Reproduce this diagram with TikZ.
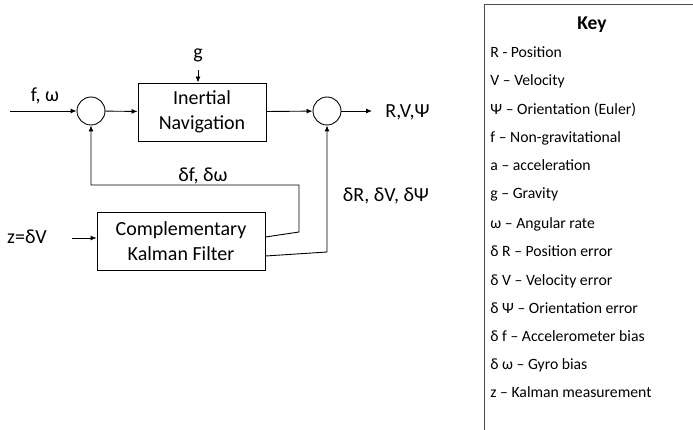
\documentclass[tikz,border=0pt]{standalone}
\usepackage{fontspec}
\setmainfont{Carlito}
\usetikzlibrary{arrows.meta}
\begin{document}
\begin{tikzpicture}[x=1pt,y=-1pt, line width=0.9pt,
 sumnode/.style={circle,draw,minimum size=28pt,inner sep=0pt},
 blockbox/.style={draw,minimum width=128pt,minimum height=58pt,align=center,font=\fontsize{20}{25}\selectfont},
 lbl/.style={font=\fontsize{20}{24}\selectfont,inner sep=0pt,anchor=base},
 keyitem/.style={anchor=base west,font=\fontsize{15.7}{18}\selectfont,inner sep=0pt},
 arr/.style={-{Latex[length=6pt,width=5pt]}}]
\useasboundingbox (0,0) rectangle (693,430);
% main loop
\node[sumnode] (s1) at (91,111) {};
\node[sumnode] (s2) at (327,111) {};
\node[blockbox] (ins) at (202,112) {Inertial\\Navigation};
\node[blockbox, minimum width=168pt] (kf) at (181,241) {Complementary\\Kalman Filter};
\coordinate (in) at (10,111);
\draw[arr] (in) -- (s1);
\node[lbl] (fw) at (45,102) {f, ω};
\draw[arr] (s1) -- (ins);
\node[lbl] (g) at (198,59) {g};
\coordinate (gtop) at (198,70);
\draw[arr] (gtop) -- (gtop |- ins.north);
\draw[arr] (ins) -- (s2);
\coordinate (out) at (372,111);
\draw[arr] (s2) -- (out);
\node[lbl,anchor=base west] (rvp) at (385,118) {R,V,Ψ};
% feedback
\coordinate (c1) at (299,232);
\coordinate (c2) at (327,252);
\draw[arr] ([yshift=4pt]kf.east) -- (c1) -- (c1 |- 0,185) -| (s1.south);
\draw[arr] ([yshift=-15pt]kf.east) -- (c2) -- (s2.south);
\node[lbl] (dfw) at (203,182) {δf, δω};
\node[lbl] (drvp) at (386,202) {δR, δV, δΨ};
\node[lbl] (z) at (27,244) {z=δV};
\coordinate (zin) at (72,238);
\draw[arr] (zin) -- (kf.west |- zin);
% key
\draw[gray!60!black] (693,4) -- (484,4) -- (484,430);
\node[font=\bfseries\fontsize{19.5}{22}\selectfont, inner sep=0pt, anchor=base] (keyt) at (592,30) {Key};
\node[keyitem] (k1) at (490,58) {R - Position};
\node[keyitem] (k2) at (490,86) {V – Velocity};
\node[keyitem] (k3) at (490,115) {Ψ – Orientation (Euler)};
\node[keyitem] (k4) at (490,143) {f – Non-gravitational};
\node[keyitem] (k5) at (490,171) {a – acceleration};
\node[keyitem] (k6) at (490,199) {g – Gravity};
\node[keyitem] (k7) at (490,229) {ω – Angular rate};
\node[keyitem] (k8) at (490,257) {δ R – Position error};
\node[keyitem] (k9) at (490,285) {δ V – Velocity error};
\node[keyitem] (k10) at (490,313) {δ Ψ – Orientation error};
\node[keyitem] (k11) at (490,341) {δ f – Accelerometer bias};
\node[keyitem] (k12) at (490,369) {δ ω – Gyro bias};
\node[keyitem] (k13) at (490,397) {z – Kalman measurement};
\end{tikzpicture}
\end{document}
